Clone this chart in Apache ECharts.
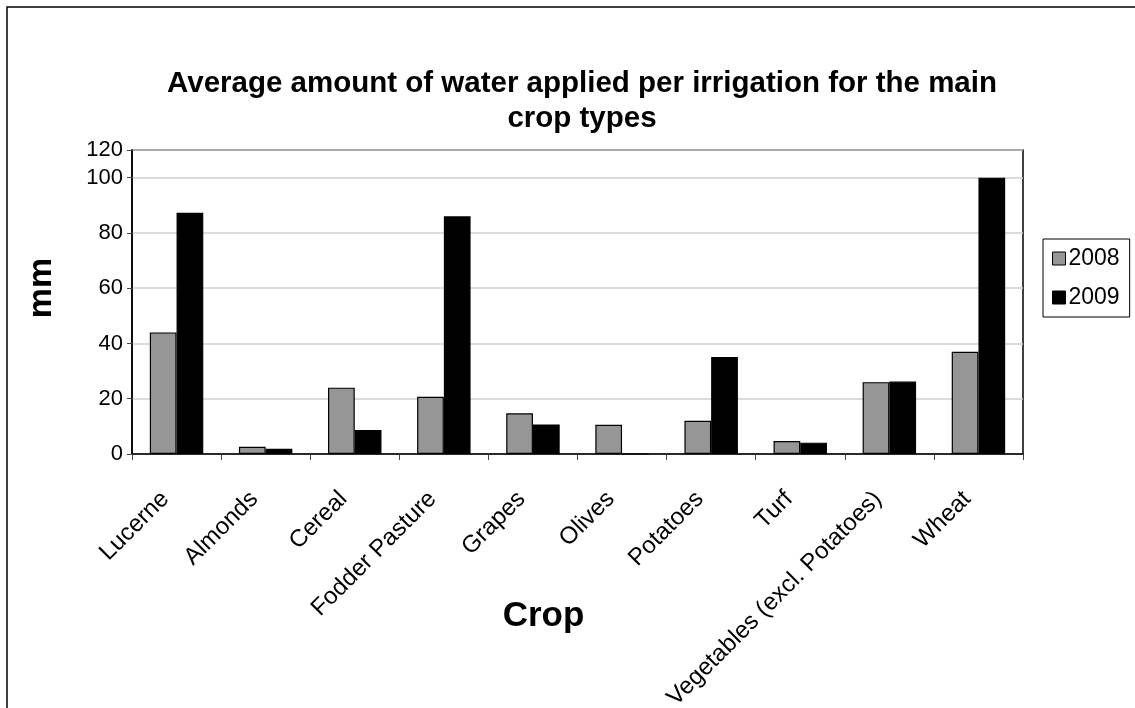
<!DOCTYPE html>
<html>
<head>
<meta charset="utf-8">
<title>Average amount of water applied per irrigation</title>
<script src="https://cdn.jsdelivr.net/npm/echarts@6/dist/echarts.min.js"></script>
<style>
  html, body { margin: 0; padding: 0; background: #fff; }
  #chart { width: 1135px; height: 708px; }
</style>
</head>
<body>
<div id="chart"></div>
<script>
// Crop categories and mean irrigation depth (mm) for each season
const crops = ['Lucerne', 'Almonds', 'Cereal', 'Fodder Pasture', 'Grapes', 'Olives',
               'Potatoes', 'Turf', 'Vegetables (excl. Potatoes)', 'Wheat'];
const values2008 = [44, 2.6, 24, 20.7, 14.7, 10.6, 12, 4.7, 26, 37];
const values2009 = [87.3, 1.9, 8.7, 86, 10.7, 0, 35.1, 4.1, 26.2, 100];
const yTickLabels = ['0', '20', '40', '60', '80', '100', '120'];

const FONT = 'Liberation Sans, Arial, Helvetica, sans-serif';

const chart = echarts.init(document.getElementById('chart'), null, { renderer: 'canvas' });

chart.setOption({
  animation: false,
  backgroundColor: '#ffffff',
  textStyle: { fontFamily: FONT, color: '#000' },
  title: {
    text: 'Average amount of water applied per irrigation for the main\ncrop types',
    left: 577,
    textAlign: 'center',
    top: 61,
    textStyle: { fontFamily: FONT, fontSize: 29.5, fontWeight: 'bold', color: '#000', lineHeight: 35 }
  },
  legend: {
    orient: 'vertical',
    left: 1043,
    top: 239,
    padding: [8, 10, 8, 9],
    itemGap: 16,
    itemWidth: 13,
    itemHeight: 13,
    itemStyle: { borderColor: '#000', borderWidth: 1 },
    icon: 'rect',
    backgroundColor: '#fff',
    borderColor: '#000',
    borderWidth: 1,
    textStyle: { fontFamily: FONT, fontSize: 23, color: '#000', padding: [0, 0, 0, -2] },
    data: ['2008', '2009']
  },
  grid: {
    left: 132,
    right: 112,
    top: 150,
    bottom: 254,
    containLabel: false,
    outerBoundsMode: 'none',
    show: true,
    borderColor: '#000',
    borderWidth: 1.5,
    backgroundColor: '#fff'
  },
  xAxis: {
    type: 'category',
    data: crops,
    name: 'Crop',
    nameLocation: 'middle',
    nameGap: 145,
    nameMoveOverlap: false,
    nameTextStyle: { fontFamily: FONT, fontSize: 35, fontWeight: 'bold', color: '#000', padding: [0, 68, 0, 0] },
    axisLine: { lineStyle: { color: '#000', width: 1.5 } },
    axisTick: { show: true, length: 6, lineStyle: { color: '#444', width: 1 } },
    axisLabel: {
      rotate: 45, interval: 0, margin: 30, hideOverlap: false,
      fontFamily: FONT, fontSize: 24, color: '#000', padding: [0, 16, 0, 0]
    },
    splitLine: { show: false }
  },
  yAxis: {
    type: 'value',
    min: 0,
    max: 110,
    interval: 20,
    name: 'mm',
    nameLocation: 'middle',
    nameGap: 73,
    nameRotate: 90,
    nameMoveOverlap: false,
    nameTextStyle: { fontFamily: FONT, fontSize: 34, fontWeight: 'bold', color: '#000', padding: [0, 0, 0, 28] },
    axisLine: { show: true, lineStyle: { color: '#000', width: 1.5 } },
    axisTick: { show: true, length: 5, lineStyle: { color: '#444', width: 1 } },
    axisLabel: {
      margin: 9,
      fontFamily: FONT,
      fontSize: 22,
      color: '#000',
      formatter: (v, i) => yTickLabels[i]
    },
    splitLine: { show: true, lineStyle: { color: '#cfcfcf', width: 1.5 } }
  },
  series: [
    {
      name: '2008',
      type: 'bar',
      data: values2008,
      barGap: '0%',
      barCategoryGap: '40%',
      itemStyle: { color: '#969696', borderColor: '#000', borderWidth: 1.2 }
    },
    {
      name: '2009',
      type: 'bar',
      data: values2009,
      itemStyle: { color: '#000000', borderColor: '#000', borderWidth: 1.2 }
    }
  ],
  graphic: [
    {
      type: 'polyline',
      shape: { points: [[7, 712], [7, 7], [1140, 7]] },
      style: { stroke: '#000', lineWidth: 1.5, fill: null },
      silent: true
    }
  ]
});
</script>
</body>
</html>
